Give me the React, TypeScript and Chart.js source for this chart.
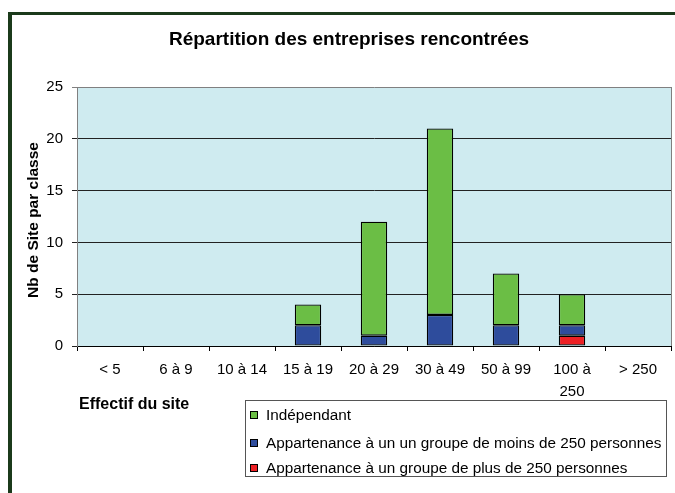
import React, { useEffect, useRef } from "react";
import { Chart, registerables } from "chart.js";

Chart.register(...registerables);

const titleText = "Répartition des entreprises rencontrées";
const yTitle = "Nb de Site par classe";
const xTitle = "Effectif du site";

const categories: (string | string[])[] = [
  "< 5",
  "6 à 9",
  "10 à 14",
  "15 à 19",
  "20 à 29",
  "30 à 49",
  "50 à 99",
  ["100 à", "250"],
  "> 250",
];

const independant = [0, 0, 0, 2, 11, 18, 5, 3, 0];
const groupeMoins250 = [0, 0, 0, 2, 1, 3, 2, 1, 0];
const groupePlus250 = [0, 0, 0, 0, 0, 0, 0, 1, 0];

const yMin = 0;
const yMax = 25;
const yStep = 5;

const seriesLabels = [
  "Appartenance à un groupe de plus de 250 personnes",
  "Appartenance à un un groupe de moins de 250 personnes",
  "Indépendant",
];
const seriesColors = ["#ED2024", "#2E4C9C", "#6BBE45"];

const FONT = "Arial, 'Liberation Sans', sans-serif";

const decorPlugin = {
  id: "decor",
  beforeDraw(chart: any) {
    const { ctx, chartArea } = chart;
    ctx.save();
    ctx.fillStyle = "#ffffff";
    ctx.fillRect(0, 0, chart.width, chart.height);
    ctx.fillStyle = "#CFEBF0";
    ctx.fillRect(chartArea.left, chartArea.top, chartArea.right - chartArea.left, chartArea.bottom - chartArea.top);
    ctx.restore();
  },
  afterDraw(chart: any) {
    const { ctx, chartArea } = chart;
    ctx.save();
    // right plot border
    ctx.strokeStyle = "#808080";
    ctx.lineWidth = 1;
    ctx.beginPath();
    ctx.moveTo(Math.round(chartArea.right) + 0.5, chartArea.top);
    ctx.lineTo(Math.round(chartArea.right) + 0.5, chartArea.bottom);
    ctx.stroke();

    // frame
    ctx.fillStyle = "#1B3A1B";
    ctx.fillRect(8, 12, 4, chart.height);
    ctx.fillRect(8, 12, chart.width, 3);

    // title
    ctx.fillStyle = "#000";
    ctx.font = `bold 19px ${FONT}`;
    ctx.textAlign = "center";
    ctx.textBaseline = "middle";
    ctx.fillText(titleText, 349, 40);

    // y title
    ctx.save();
    ctx.translate(34, 220);
    ctx.rotate(-Math.PI / 2);
    ctx.font = `bold 15.5px ${FONT}`;
    ctx.fillText(yTitle, 0, 0);
    ctx.restore();

    // x title
    ctx.textAlign = "left";
    ctx.font = `bold 16px ${FONT}`;
    ctx.fillText(xTitle, 79, 405);

    // legend
    const lx = 245.5, ly = 400.5, lw = 421, lh = 76;
    ctx.fillStyle = "#fff";
    ctx.fillRect(lx, ly, lw, lh);
    ctx.strokeStyle = "#555";
    ctx.lineWidth = 1;
    ctx.strokeRect(lx, ly, lw, lh);
    const ys = [415, 443, 468];
    const order = [2, 1, 0];
    ctx.font = `15.3px ${FONT}`;
    order.forEach((di, i) => {
      const y = ys[i];
      ctx.fillStyle = seriesColors[di];
      ctx.fillRect(250.5, y - 3.5, 7, 7);
      ctx.strokeStyle = "#000";
      ctx.strokeRect(250.5, y - 3.5, 7, 7);
      ctx.fillStyle = "#000";
      ctx.textAlign = "left";
      ctx.textBaseline = "middle";
      ctx.fillText(chart.data.datasets[di].label, 266, y + 1);
    });
    ctx.restore();
  },
};

export default function App() {
  const ref = useRef<HTMLCanvasElement | null>(null);
  useEffect(() => {
    if (!ref.current) return;
    const toData = (a: number[]) => a.map((v) => (v === 0 ? null : v));
    const series = [groupePlus250, groupeMoins250, independant];
    const chart = new Chart(ref.current, {
      type: "bar",
      data: {
        labels: categories,
        datasets: series.map((s, i) => ({
          label: seriesLabels[i],
          data: toData(s),
          backgroundColor: seriesColors[i],
          borderColor: "#000",
          borderWidth: 1.3,
          borderSkipped: false,
          barPercentage: 0.4,
          categoryPercentage: 1,
        })),
      },
      options: {
        animation: false,
        responsive: false,
        maintainAspectRatio: false,
        layout: { padding: { top: 87, right: 4, left: 0, bottom: 0 } },
        plugins: {
          legend: { display: false },
          title: { display: false },
          tooltip: { enabled: false },
        },
        scales: {
          x: {
            stacked: true,
            afterFit: (s: any) => {
              s.height = 147;
            },
            grid: {
              offset: true,
              drawOnChartArea: false,
              drawTicks: true,
              tickLength: 5,
              color: "#000",
            },
            border: { color: "#000", width: 1 },
            ticks: {
              color: "#000",
              font: { family: FONT, size: 15, lineHeight: 1.45 },
              padding: 8,
              maxRotation: 0,
              autoSkip: false,
            },
          },
          y: {
            stacked: true,
            min: yMin,
            max: yMax,
            afterFit: (s: any) => {
              s.width = 77;
            },
            grid: {
              color: (c: any) => (c.tick && c.tick.value === yMax ? "#808080" : "#222"),
              tickLength: 5,
            },
            border: { color: "#808080", width: 1 },
            ticks: {
              stepSize: yStep,
              color: "#000",
              font: { family: FONT, size: 15 },
              padding: 9,
            },
          },
        },
      },
      plugins: [decorPlugin],
    });
    return () => chart.destroy();
  }, []);
  return (
    <div style={{ position: "fixed", left: 0, top: 0, width: 675, height: 493 }}>
      <canvas ref={ref} width={675} height={493} style={{ width: 675, height: 493, display: "block" }} />
    </div>
  );
}
